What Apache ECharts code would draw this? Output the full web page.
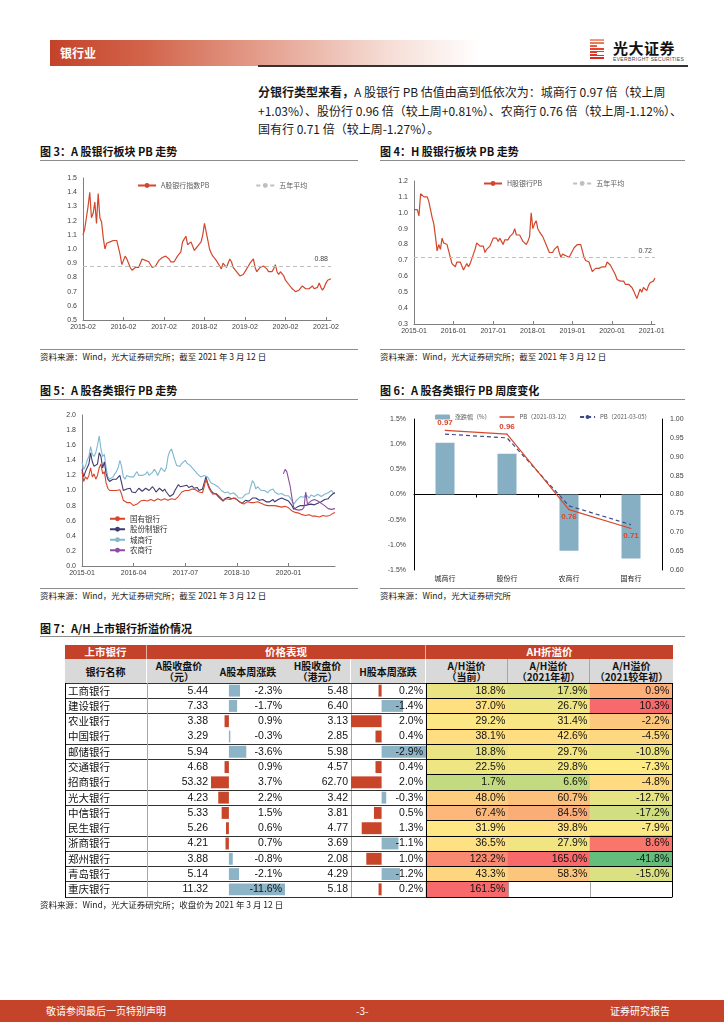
<!DOCTYPE html>
<html lang="zh-CN"><head><meta charset="utf-8"><title>银行业</title>
<script src="https://cdn.jsdelivr.net/npm/echarts@6.0.0/dist/echarts.min.js"></script>
<style>
html,body{margin:0;padding:0;background:#fff}
body{width:724px;height:1024px;position:relative;overflow:hidden;font-family:"Noto Sans CJK SC","Noto Sans",sans-serif;color:#1a1a1a}
.a{position:absolute}
.band{left:50px;top:40px;width:430px;height:26px;background:linear-gradient(to right,#c4422a 0%,#d2644a 22%,#e4a08e 50%,#f5dcd4 78%,#fff 100%)}
.band span{position:absolute;left:10px;top:5px;color:#fff;font-weight:bold;font-size:12px;line-height:16px}
.hline{left:258px;top:65px;width:430px;height:1.5px;background:#333}
.para{left:258px;top:83px;font-size:12px;line-height:18.5px;white-space:nowrap;color:#1a1a1a}
.title{font-size:11px;font-weight:bold;color:#111;white-space:nowrap;line-height:14px}
.tline{height:1px;background:#8c8c8c}
.src{font-size:8.5px;color:#222;white-space:nowrap;line-height:11px}
.th1{background:#c4422a;color:#fff;font-weight:bold;font-size:10.5px;line-height:14px;text-align:center;height:14px;box-sizing:border-box}
.th2{background:#d9d9d9;color:#111;font-weight:bold;font-size:10px;line-height:11px;text-align:center;height:24px;box-sizing:border-box;display:flex;align-items:center;justify-content:center;flex-direction:column}
.foot{left:0;top:1000px;width:724px;height:22px;background:#c5432a}
.foot span{position:absolute;top:4px;color:#fff;font-size:10px;line-height:14px}
</style></head><body>

<div class="a band"><span>银行业</span></div>
<div class="a" style="left:590px;top:39px;width:14px;height:21px;background:linear-gradient(to bottom,#f0a080,#e8432c 45%,#d9261f);"></div>
<div class="a" style="left:590px;top:39px;width:14px;height:21px;background:repeating-linear-gradient(to bottom,transparent 0 2px,#fff 2px 3px);"></div>
<div class="a" style="left:597px;top:44px;width:7px;height:3px;background:#fff"></div>
<div class="a" style="left:597px;top:52px;width:7px;height:3px;background:#fff"></div>
<div class="a" style="left:613px;top:39px;font-size:15px;font-weight:bold;line-height:17px;color:#111;letter-spacing:0.5px">光大证券</div>
<div class="a" style="left:613px;top:56px;font-size:5px;line-height:6px;color:#444;letter-spacing:0.35px;font-family:'Liberation Sans',sans-serif">EVERBRIGHT SECURITIES</div>
<div class="a hline"></div>

<div class="a para"><b>分银行类型来看，</b>A 股银行 PB 估值由高到低依次为：城商行 0.97 倍（较上周<br>+1.03%）、股份行 0.96 倍（较上周+0.81%）、农商行 0.76 倍（较上周-1.12%）、<br>国有行 0.71 倍（较上周-1.27%）。</div>

<div class="a title" style="left:40px;top:144px">图 3：A 股银行板块 PB 走势</div>
<div class="a tline" style="left:40px;top:160px;width:318px"></div>
<div class="a title" style="left:380px;top:144px">图 4：H 股银行板块 PB 走势</div>
<div class="a tline" style="left:380px;top:160px;width:305px"></div>
<div id="c3" class="a" style="left:40px;top:165px;width:318px;height:180px"></div>
<div id="c4" class="a" style="left:380px;top:165px;width:305px;height:180px"></div>
<div class="a tline" style="left:40px;top:349px;width:318px"></div>
<div class="a src" style="left:40px;top:351px">资料来源：Wind，光大证券研究所；截至 2021 年 3 月 12 日</div>
<div class="a tline" style="left:380px;top:349px;width:305px"></div>
<div class="a src" style="left:380px;top:351px">资料来源：Wind，光大证券研究所；截至 2021 年 3 月 12 日</div>

<div class="a title" style="left:40px;top:383px">图 5：A 股各类银行 PB 走势</div>
<div class="a tline" style="left:40px;top:399px;width:318px"></div>
<div class="a title" style="left:380px;top:383px">图 6：A 股各类银行 PB 周度变化</div>
<div class="a tline" style="left:380px;top:399px;width:305px"></div>
<div id="c5" class="a" style="left:40px;top:403px;width:318px;height:183px"></div>
<div id="c6" class="a" style="left:380px;top:403px;width:305px;height:183px"></div>
<div class="a tline" style="left:40px;top:588px;width:318px"></div>
<div class="a src" style="left:40px;top:590px">资料来源：Wind，光大证券研究所；截至 2021 年 3 月 12 日</div>
<div class="a tline" style="left:380px;top:588px;width:305px"></div>
<div class="a src" style="left:380px;top:590px">资料来源：Wind，光大证券研究所</div>

<div class="a title" style="left:40px;top:621px">图 7：A/H 上市银行折溢价情况</div>
<div class="a tline" style="left:40px;top:636px;width:645px"></div>

<div class="a th1" style="left:65px;top:645px;width:82px;border-right:1px solid #e8b0a4">上市银行</div>
<div class="a th1" style="left:147px;top:645px;width:279px;border-right:1px solid #e8b0a4">价格表现</div>
<div class="a th1" style="left:426px;top:645px;width:247px">AH折溢价</div>
<div class="a th2" style="left:65px;top:659px;width:82px;border-right:1px solid #fff">银行名称</div>
<div class="a th2" style="left:147px;top:659px;width:64px"><div>A股收盘价</div><div>（元）</div></div>
<div class="a th2" style="left:211px;top:659px;width:74px">A股本周涨跌</div>
<div class="a th2" style="left:285px;top:659px;width:66px;border-right:1px solid #fff"><div>H股收盘价</div><div>（港元）</div></div>
<div class="a th2" style="left:351px;top:659px;width:75px;border-right:1px solid #fff">H股本周涨跌</div>
<div class="a th2" style="left:426px;top:659px;width:82px;border-right:1px solid #a6a6a6"><div>A/H溢价</div><div>（当前）</div></div>
<div class="a th2" style="left:508px;top:659px;width:82px;border-right:1px solid #a6a6a6"><div>A/H溢价</div><div>（2021年初）</div></div>
<div class="a th2" style="left:590px;top:659px;width:83px"><div>A/H溢价</div><div>（2021较年初）</div></div>
<div id="tbl" class="a" style="left:65px;top:683px;width:612px;height:216px"></div>
<div class="a src" style="left:40px;top:899px">资料来源：Wind，光大证券研究所；收盘价为 2021 年 3 月 12 日</div>

<div class="a foot"><span style="left:46px">敬请参阅最后一页特别声明</span><span style="left:356px">-3-</span><span style="left:610px">证券研究报告</span></div>

<script>
// ---------------- DATA ----------------
// Fig.3  A-share bank sector PB (semi-monthly readings from 2015-02)
const startA = [2015, 2];
const pbA = [
 1.10,1.14,1.22,1.30,1.40,1.22,1.25,1.33,1.18,1.39,
 1.22,1.19,1.08,1.00,1.04,1.03,1.05,1.04,1.06,1.05,
 1.06,1.07,0.96,0.89,0.92,0.95,0.93,0.90,0.87,0.85,
 0.84,0.87,0.88,0.87,0.90,0.93,0.94,0.92,0.92,0.91,
 0.90,0.87,0.87,0.88,0.89,0.92,0.93,0.94,0.95,0.95,
 0.94,0.93,0.91,0.90,0.91,0.93,0.95,0.94,0.98,1.05,
 1.04,1.09,1.03,1.04,1.05,1.04,0.99,0.98,1.02,1.01,
 1.05,1.10,1.18,1.12,1.06,1.00,0.97,0.95,0.95,0.92,
 0.93,0.88,0.86,0.90,0.89,0.87,0.88,0.93,0.91,0.87,
 0.86,0.84,0.84,0.81,0.80,0.82,0.83,0.86,0.88,0.90,
 0.89,0.93,0.87,0.84,0.85,0.87,0.88,0.88,0.87,0.86,
 0.84,0.85,0.84,0.86,0.89,0.84,0.82,0.84,0.85,0.81,
 0.78,0.77,0.75,0.74,0.72,0.72,0.70,0.70,0.71,0.72,
 0.74,0.73,0.72,0.71,0.72,0.73,0.74,0.72,0.71,0.73,
 0.76,0.73,0.71,0.73,0.76,0.78,0.79,0.79];
const avgA = 0.88;
const ticksA = ['2015-02','2016-02','2017-02','2018-02','2019-02','2020-02','2021-02'];

// Fig.4  H-share bank sector PB (semi-monthly readings from 2015-01)
const startH = [2015, 1];
const pbH = [
 1.02,1.03,1.02,0.98,1.12,1.13,1.10,1.11,1.10,1.07,
 1.02,0.97,0.93,0.85,0.76,0.80,0.77,0.84,0.81,0.80,
 0.80,0.76,0.72,0.68,0.67,0.66,0.69,0.70,0.69,0.70,
 0.64,0.66,0.68,0.66,0.68,0.71,0.74,0.77,0.81,0.80,
 0.79,0.78,0.79,0.75,0.77,0.76,0.79,0.80,0.84,0.83,
 0.84,0.82,0.84,0.82,0.80,0.83,0.84,0.83,0.85,0.86,
 0.87,0.90,0.86,0.85,0.86,0.84,0.82,0.81,0.80,0.82,
 0.85,1.00,0.90,0.93,0.95,0.90,0.88,0.87,0.85,0.84,
 0.80,0.79,0.75,0.76,0.75,0.77,0.78,0.79,0.75,0.72,
 0.74,0.74,0.73,0.73,0.72,0.72,0.76,0.78,0.79,0.80,
 0.79,0.80,0.76,0.72,0.70,0.70,0.69,0.66,0.63,0.63,
 0.65,0.66,0.65,0.66,0.66,0.67,0.66,0.69,0.69,0.67,
 0.66,0.63,0.61,0.58,0.57,0.57,0.56,0.57,0.55,0.56,
 0.55,0.55,0.53,0.51,0.50,0.46,0.46,0.52,0.50,0.53,
 0.54,0.51,0.54,0.56,0.55,0.57,0.59];
const avgH = 0.72;
const ticksH = ['2015-01','2016-01','2017-01','2018-01','2019-01','2020-01','2021-01'];

// Fig.5  PB by bank type (semi-monthly readings from 2015-01)
const start5 = [2015, 1];
const pbSOE = [
 1.25,1.12,1.18,1.15,1.20,1.30,1.18,1.22,1.15,1.20,
 1.30,1.35,1.22,1.25,1.10,1.03,1.00,1.01,1.00,1.02,
 1.00,0.99,1.01,0.95,0.87,0.85,0.84,0.82,0.84,0.83,
 0.80,0.79,0.82,0.84,0.86,0.86,0.87,0.88,0.86,0.87,
 0.88,0.87,0.86,0.88,0.89,0.88,0.87,0.88,0.89,0.88,
 0.87,0.88,0.89,0.90,0.88,0.90,0.92,0.95,0.98,0.99,
 1.00,1.02,1.00,1.01,1.02,1.00,1.01,1.02,0.98,0.96,
 0.97,1.05,1.15,1.08,1.02,0.98,0.95,0.94,0.96,0.95,
 0.92,0.90,0.87,0.88,0.89,0.90,0.88,0.89,0.90,0.89,
 0.88,0.86,0.84,0.83,0.82,0.84,0.85,0.83,0.84,0.86,
 0.84,0.83,0.85,0.84,0.83,0.82,0.81,0.82,0.80,0.81,
 0.80,0.81,0.80,0.79,0.79,0.80,0.78,0.78,0.79,0.78,
 0.77,0.76,0.73,0.72,0.71,0.70,0.70,0.69,0.68,0.68,
 0.67,0.67,0.68,0.67,0.66,0.67,0.66,0.66,0.65,0.66,
 0.67,0.65,0.66,0.66,0.67,0.68,0.70,0.71];
const pbJSB = [
 1.28,1.18,1.25,1.30,1.35,1.50,1.38,1.32,1.30,1.35,
 1.50,1.45,1.30,1.38,1.22,1.15,1.12,1.14,1.15,1.13,
 1.15,1.16,1.20,1.10,1.00,0.98,1.02,1.00,1.03,0.98,
 0.96,0.97,1.00,1.03,1.02,0.99,1.00,1.03,1.04,1.00,
 1.02,1.05,1.02,0.98,1.00,1.03,1.01,0.99,1.02,0.98,
 0.95,0.92,0.93,0.95,1.00,1.02,1.08,1.05,1.04,1.06,
 1.05,1.07,1.04,1.05,1.06,1.03,1.05,1.04,1.00,0.98,
 1.02,1.10,1.18,1.10,1.04,1.00,0.97,0.96,0.95,0.94,
 0.90,0.88,0.86,0.89,0.90,0.91,0.90,0.89,0.91,0.90,
 0.89,0.86,0.84,0.83,0.85,0.87,0.88,0.86,0.88,0.90,
 0.89,0.90,0.88,0.87,0.86,0.88,0.86,0.85,0.84,0.85,
 0.86,0.88,0.85,0.87,0.88,0.87,0.90,0.89,0.88,0.87,
 0.86,0.84,0.80,0.75,0.76,0.78,0.79,0.80,0.78,0.80,
 0.82,0.81,0.80,0.82,0.83,0.81,0.82,0.83,0.84,0.85,
 0.86,0.88,0.90,0.89,0.92,0.94,0.96,0.97];
const pbCity = [
 1.38,1.28,1.32,1.40,1.45,1.58,1.48,1.45,1.50,1.60,
 1.72,1.55,1.45,1.48,1.30,1.18,1.15,1.14,1.18,1.22,
 1.25,1.30,1.40,1.32,1.18,1.15,1.20,1.22,1.18,1.20,
 1.18,1.22,1.25,1.20,1.22,1.20,1.18,1.22,1.25,1.20,
 1.22,1.24,1.28,1.25,1.20,1.22,1.30,1.28,1.25,1.30,
 1.45,1.52,1.55,1.53,1.40,1.33,1.35,1.32,1.36,1.38,
 1.40,1.36,1.35,1.33,1.30,1.28,1.25,1.22,1.20,1.18,
 1.19,1.20,1.22,1.18,1.14,1.10,1.12,1.08,1.06,1.05,
 1.03,1.00,0.98,0.97,0.96,0.98,0.95,0.96,0.97,0.95,
 0.93,0.90,0.88,0.90,0.92,0.95,0.94,0.96,1.05,1.13,
 1.10,1.02,1.05,1.03,1.00,0.98,1.00,0.99,0.97,1.00,
 1.01,1.02,0.98,0.96,0.95,0.93,0.96,0.94,0.93,0.95,
 0.93,0.90,0.86,0.82,0.84,0.88,0.90,0.92,0.93,0.91,
 0.95,0.93,0.90,0.94,0.95,0.92,0.93,0.95,0.93,0.92,
 0.93,0.95,0.94,0.97,0.99,1.00,0.97,0.96];
const ruralStart = '2019-11-16';
const pbRural = [
 1.22,1.28,1.25,1.15,1.05,0.90,0.78,0.75,0.73,0.74,
 0.76,0.75,0.78,0.98,0.82,0.84,0.86,0.85,0.88,0.87,
 0.86,0.85,0.83,0.82,0.80,0.78,0.76,0.74,0.75,0.76,0.76];
const ticks5 = ['2015-01','2016-04','2017-07','2018-10','2020-01'];
const names5 = ['国有银行','股份制银行','城商行','农商行'];

// Fig.6  weekly change
const cats6 = ['城商行','股份行','农商行','国有行'];
const chg6 = [1.03, 0.81, -1.12, -1.27];
const pbNow6 = [0.97, 0.96, 0.76, 0.71];
const pbPrev6 = [0.96, 0.95, 0.77, 0.72];
const names6 = ['涨跌幅（%）','PB（2021-03-12）','PB（2021-03-05）'];

// Fig.7  A/H table
const banks = ['工商银行','建设银行','农业银行','中国银行','邮储银行','交通银行','招商银行','光大银行','中信银行','民生银行','浙商银行','郑州银行','青岛银行','重庆银行'];
const aClose = [5.44,7.33,3.38,3.29,5.94,4.68,53.32,4.23,5.33,5.26,4.21,3.88,5.14,11.32];
const aChg = [-2.3,-1.7,0.9,-0.3,-3.6,0.9,3.7,2.2,1.5,0.6,0.7,-0.8,-2.1,-11.6];
const hClose = [5.48,6.40,3.13,2.85,5.98,4.57,62.70,3.42,3.81,4.77,3.69,2.08,4.29,5.18];
const hChg = [0.2,-1.4,2.0,0.4,-2.9,0.4,2.0,-0.3,0.5,1.3,-1.1,1.0,-1.2,0.2];
const ahNow = [18.8,37.0,29.2,38.1,18.8,22.5,1.7,48.0,67.4,31.9,36.5,123.2,43.3,161.5];
const ahStart = [17.9,26.7,31.4,42.6,29.7,29.8,6.6,60.7,84.5,39.8,27.9,165.0,58.3,null];
const ahDiff = [0.9,10.3,-2.2,-4.5,-10.8,-7.3,-4.8,-12.7,-17.2,-7.9,8.6,-41.8,-15.0,null];
const ahCols = ['当前','2021年初','2021较年初'];

// ---------------- HELPERS ----------------
function halfMonths(start, n){
  const out = [];
  for (let i = 0; i < n; i++) {
    const k = start[1] - 1 + Math.floor(i / 2);
    const y = start[0] + Math.floor(k / 12), m = k % 12 + 1;
    out.push(y + '-' + String(m).padStart(2, '0') + '-' + (i % 2 ? '16' : '01'));
  }
  return out;
}
const tickPicker = (ticks) => (idx, v) => v.slice(8) === '01' && ticks.indexOf(v.slice(0, 7)) >= 0;
const AX = '#7f7f7f', LBL = '#404040';
const FONT = '"Liberation Sans","Noto Sans CJK SC",sans-serif';
const CJK = '"Noto Sans CJK SC",sans-serif';
const LINE_ICON = 'path://M0,0L20,0L20,2L0,2Z';

function timeAxis(cats, ticks){
  const pick = tickPicker(ticks);
  return {type:'category', data:cats, boundaryGap:false,
    axisLine:{lineStyle:{color:AX}},
    axisTick:{show:true, inside:true, length:3, interval:pick, lineStyle:{color:AX}},
    axisLabel:{interval:pick, formatter:v=>v.slice(0,7), fontSize:7, color:LBL, margin:4, fontFamily:FONT},
    splitLine:{show:false}};
}
function valAxis(min, max, step, digits){
  return {type:'value', min:min, max:max, interval:step,
    axisLine:{show:true, lineStyle:{color:AX}}, axisTick:{show:false}, splitLine:{show:false},
    axisLabel:{formatter:v=>v.toFixed(digits), fontSize:7, color:LBL, margin:6, fontFamily:FONT}};
}
function avgMark(v){
  return {silent:true, symbol:'none', data:[{yAxis:v}],
    lineStyle:{color:'#bfbfbf', type:[4,3], width:1.2},
    label:{position:'insideEndTop', formatter:v.toFixed(2), fontSize:7, color:LBL, fontFamily:FONT, distance:3}};
}
const legendText = {fontSize:7, color:'#595959', fontFamily:CJK};

// ---------------- FIG 3 ----------------
const cats3 = halfMonths(startA, pbA.length);
echarts.init(document.getElementById('c3')).setOption({
  animation:false,
  legend:{left:92, top:12, itemWidth:18, itemHeight:6, itemGap:46, textStyle:legendText, data:['A股银行指数PB','五年平均']},
  grid:{left:43, right:27, top:13, bottom:25, containLabel:false, outerBoundsMode:'none'},
  xAxis:timeAxis(cats3, ticksA),
  yAxis:valAxis(0.5, 1.5, 0.1, 1),
  series:[
    {name:'A股银行指数PB', type:'line', data:pbA, symbol:'none', lineStyle:{color:'#d2462b', width:1.2}, itemStyle:{color:'#d2462b'}, markLine:avgMark(avgA)},
    {name:'五年平均', type:'line', data:[], symbol:'none', lineStyle:{color:'#bfbfbf', type:[4,3], width:1.2}, itemStyle:{color:'#bfbfbf'}}
  ]
});

// ---------------- FIG 4 ----------------
const cats4 = halfMonths(startH, pbH.length);
echarts.init(document.getElementById('c4')).setOption({
  animation:false,
  legend:{left:98, top:10, itemWidth:18, itemHeight:6, itemGap:30, textStyle:legendText, data:['H股银行PB','五年平均']},
  grid:{left:34, right:30, top:16, bottom:21, containLabel:false, outerBoundsMode:'none'},
  xAxis:timeAxis(cats4, ticksH),
  yAxis:valAxis(0.3, 1.2, 0.1, 1),
  series:[
    {name:'H股银行PB', type:'line', data:pbH, symbol:'none', lineStyle:{color:'#d2462b', width:1.2}, itemStyle:{color:'#d2462b'}, markLine:avgMark(avgH)},
    {name:'五年平均', type:'line', data:[], symbol:'none', lineStyle:{color:'#bfbfbf', type:[4,3], width:1.2}, itemStyle:{color:'#bfbfbf'}}
  ]
});

// ---------------- FIG 5 ----------------
const cats5 = halfMonths(start5, pbSOE.length);
const ruralIdx = cats5.indexOf(ruralStart);
const colors5 = ['#d9452b','#3f3a72','#7fb8cf','#8a4f9e'];
const series5 = [pbSOE, pbJSB, pbCity].map((d, k) => ({name:names5[k], type:'line', data:d, symbol:'none', z:3-k,
  lineStyle:{color:colors5[k], width:1.1}, itemStyle:{color:colors5[k]}}));
series5.push({name:names5[3], type:'line', data:pbRural.map((v, k) => [ruralIdx + k, v]), symbol:'none',
  lineStyle:{color:colors5[3], width:1.1}, itemStyle:{color:colors5[3]}});
echarts.init(document.getElementById('c5')).setOption({
  animation:false,
  legend:{orient:'vertical', left:64, top:107, itemWidth:15, itemHeight:6, itemGap:3, textStyle:Object.assign({}, legendText, {fontSize:7.5, color:'#333'}), data:names5},
  grid:{left:42, right:23, top:12, bottom:20, containLabel:false, outerBoundsMode:'none'},
  xAxis:timeAxis(cats5, ticks5),
  yAxis:valAxis(0, 2, 0.2, 1),
  series:series5
});

// ---------------- FIG 6 ----------------
echarts.init(document.getElementById('c6')).setOption({
  animation:false,
  legend:{left:50, top:6, itemWidth:15, itemHeight:5, itemGap:9, textStyle:Object.assign({}, legendText, {fontSize:6}),
    data:[{name:names6[0]}, {name:names6[1], icon:LINE_ICON, itemStyle:{color:'#d9472b'}}, {name:names6[2]}]},
  grid:{left:34, right:23, top:16, bottom:16, containLabel:false, outerBoundsMode:'none'},
  xAxis:[
    {type:'category', data:cats6, axisLine:{onZero:true, lineStyle:{color:'#000'}}, axisTick:{show:true, length:3, lineStyle:{color:'#000'}}, axisLabel:{show:false}},
    {type:'category', data:cats6, position:'bottom', axisLine:{show:false, onZero:false}, axisTick:{show:false}, axisLabel:{fontSize:7, color:'#222', margin:5, fontFamily:CJK}}
  ],
  yAxis:[
    {type:'value', min:-1.5, max:1.5, interval:0.5, axisLine:{show:true, lineStyle:{color:'#000'}}, axisTick:{show:false}, splitLine:{show:false},
      axisLabel:{formatter:v=>v.toFixed(1)+'%', fontSize:7, color:LBL, fontFamily:FONT}},
    {type:'value', min:0.6, max:1.0, interval:0.05, position:'right', axisLine:{show:true, onZero:false, lineStyle:{color:'#000'}}, axisTick:{show:false}, splitLine:{show:false},
      axisLabel:{formatter:v=>v.toFixed(2), fontSize:7, color:LBL, fontFamily:FONT}}
  ],
  series:[
    {name:names6[0], type:'bar', data:chg6, barWidth:19, itemStyle:{color:'#86afc3'}},
    {name:names6[1], type:'line', yAxisIndex:1, z:4,
      data:pbNow6.map((v, i) => ({value:v, label:{position: chg6[i] >= 0 ? 'top' : 'bottom'}})),
      symbol:'circle', symbolSize:1, lineStyle:{color:'#d9472b', width:1.2}, itemStyle:{color:'#d9472b'},
      label:{show:true, formatter:p=>p.value.toFixed(2), color:'#d9472b', fontSize:8, fontWeight:'bold', fontFamily:FONT, distance:3}},
    {name:names6[2], type:'line', yAxisIndex:1, data:pbPrev6, symbol:'none', z:3,
      lineStyle:{color:'#3d4a8a', type:[4,3], width:1.2}, itemStyle:{color:'#3d4a8a'}}
  ]
});

// ---------------- FIG 7 TABLE ----------------
const RH = 214;
const cols = [[0,82],[82,64],[146,74],[220,66],[286,75],[361,246]];
const noLineAbove = [3,6,9];
const rowLine = (i) => noLineAbove.indexOf(i) < 0;
const numFont = {fontFamily:'"Liberation Sans Narrow","Liberation Sans",sans-serif', fontSize:10.5, color:'#111'};
const nameFont = {fontFamily:CJK, fontSize:10.5, color:'#111'};
const pct = v => v.toFixed(1) + '%';
function catY(grid, pos, opts){
  return Object.assign({type:'category', data:banks, inverse:true, gridIndex:grid, position:pos,
    axisLine:{show:false, onZero:false}, axisTick:{show:false}, axisLabel:{show:false},
    splitLine:{show:false}}, opts);
}
const split = (color, fn) => ({show:true, interval:fn, lineStyle:{color:color, width:1}});
const hideX = (g, extra) => Object.assign({type:'value', gridIndex:g, show:false, min:0, max:1}, extra);
const scaleNow = ['#63be7b','#d4df81','#ffe883','#fcbf7b','#fbaa77','#fa9673','#f9806f','#f8696b'];
const scaleDiff = ['#63be7b','#b1d580','#ffeb84','#f8696b'];
const ahSets = [ahNow, ahStart, ahDiff];

const tblSeries = [
  {type:'bar', xAxisIndex:2, yAxisIndex:3, data:aChg, barWidth:'78%', itemStyle:{color:p=>p.value > 0 ? '#c8452a' : '#8db3c7'}},
  {type:'bar', xAxisIndex:4, yAxisIndex:5, data:hChg, barWidth:'78%', itemStyle:{color:p=>p.value > 0 ? '#c8452a' : '#8db3c7'}}
];
ahSets.forEach((arr, c) => {
  tblSeries.push({type:'heatmap', xAxisIndex:5, yAxisIndex:6,
    data:arr.map((v, i) => [c, i, v == null ? '-' : v]),
    label:{show:true, position:'insideRight', distance:3, formatter:p=>pct(p.value[2]), ...numFont}});
});
const blanks = [];
ahSets.forEach((arr, c) => arr.forEach((v, i) => { if (v == null) blanks.push([c, i]); }));
tblSeries.push({type:'scatter', xAxisIndex:5, yAxisIndex:6, data:blanks, symbolSize:1, itemStyle:{opacity:0},
  label:{show:true, position:'inside', formatter:'-', color:'#999', fontSize:9}});

echarts.init(document.getElementById('tbl')).setOption({
  animation:false,
  grid:cols.map(([l, w]) => ({left:l, width:w, top:0, height:RH, containLabel:false, outerBoundsMode:'none'})),
  visualMap:[
    {type:'continuous', show:false, seriesIndex:2, dimension:2, min:-20, max:161.5, inRange:{color:scaleNow}},
    {type:'continuous', show:false, seriesIndex:3, dimension:2, min:-15, max:165, inRange:{color:scaleNow}},
    {type:'continuous', show:false, seriesIndex:4, dimension:2, min:-41.8, max:10.3, inRange:{color:scaleDiff}}
  ],
  xAxis:[
    hideX(0), hideX(1),
    {type:'value', gridIndex:2, show:false, inverse:true, min:'dataMin', max:'dataMax'},
    hideX(3),
    {type:'value', gridIndex:4, show:false, inverse:true, min:'dataMin', max:'dataMax'},
    {type:'category', gridIndex:5, data:ahCols, axisLine:{show:false}, axisTick:{show:false}, axisLabel:{show:false},
      splitLine:{show:true, interval:0, lineStyle:{color:'#a6a6a6'}}}
  ],
  yAxis:[
    catY(0, 'left', {axisLine:{show:true, onZero:false, lineStyle:{color:'#000'}}, axisLabel:{show:true, inside:true, margin:3, ...nameFont}, splitLine:split('#333', rowLine)}),
    catY(0, 'right', {axisLine:{show:true, onZero:false, lineStyle:{color:'#a6a6a6'}}}),
    catY(1, 'right', {axisLabel:{show:true, inside:true, margin:3, formatter:(v, i)=>aClose[i].toFixed(2), ...numFont}, splitLine:split('#333', rowLine)}),
    catY(2, 'right', {z:10, axisLabel:{show:true, inside:true, margin:3, formatter:(v, i)=>pct(aChg[i]), ...numFont}, splitLine:split('#333', rowLine)}),
    catY(3, 'right', {axisLine:{show:true, onZero:false, lineStyle:{color:'#a6a6a6'}}, axisLabel:{show:true, inside:true, margin:3, formatter:(v, i)=>hClose[i].toFixed(2), ...numFont}, splitLine:split('#333', rowLine)}),
    catY(4, 'right', {z:10, axisLine:{show:true, onZero:false, lineStyle:{color:'#000'}}, axisLabel:{show:true, inside:true, margin:3, formatter:(v, i)=>pct(hChg[i]), ...numFont}, splitLine:split('#333', rowLine)}),
    catY(5, 'left', {z:5, splitLine:{show:true, interval:0, lineStyle:{color:'#000'}}}),
    catY(5, 'right', {z:5, axisLine:{show:true, onZero:false, lineStyle:{color:'#000'}}})
  ],
  series:tblSeries
});
</script>
</body></html>
